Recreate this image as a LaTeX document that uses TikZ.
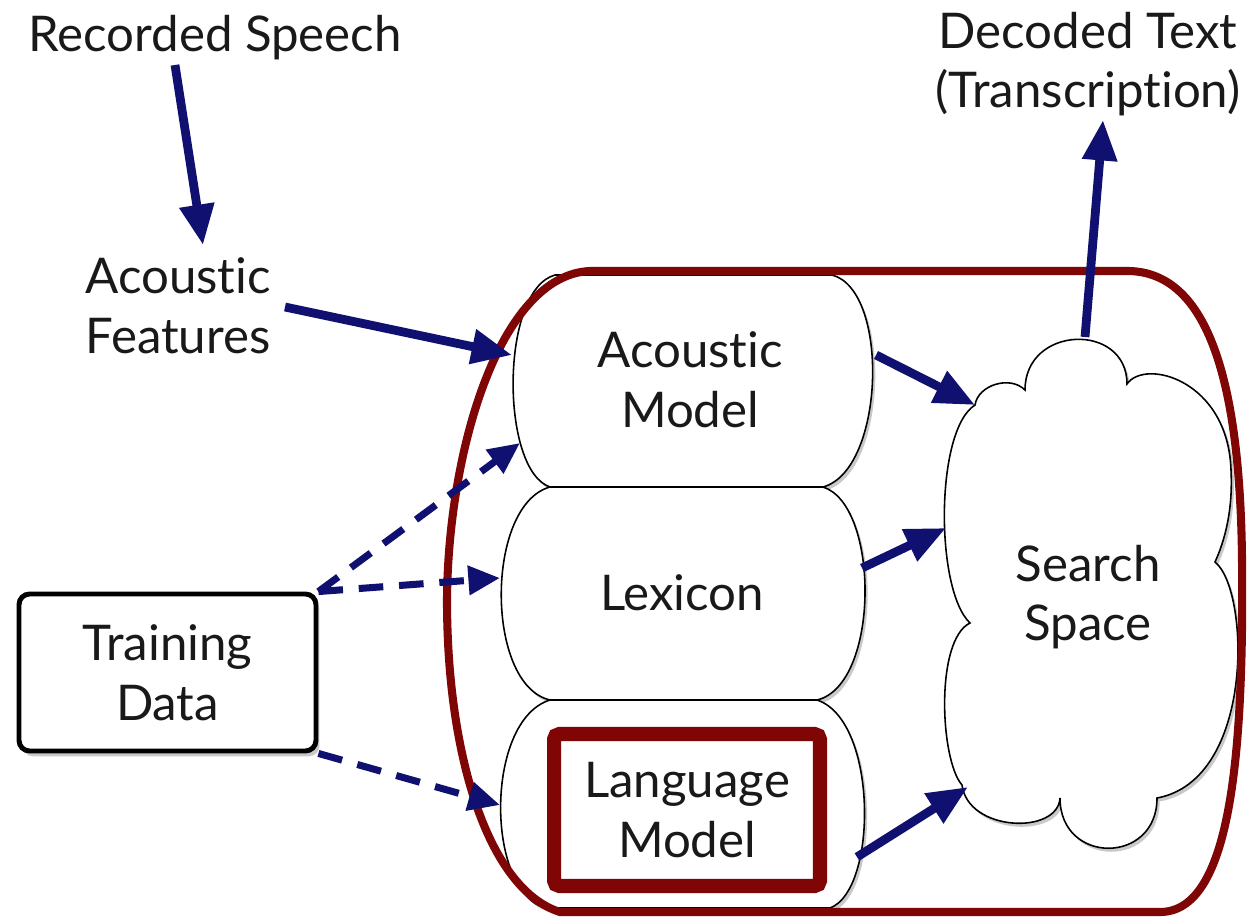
\documentclass[tikz,border=0pt]{standalone}
\usepackage{fontspec}
\setmainfont{Lato}[Ligatures=NoCommon]
\usetikzlibrary{arrows.meta,shadows}
\definecolor{navy}{RGB}{16,16,112}
\definecolor{maroon}{RGB}{128,6,6}
\definecolor{ink}{RGB}{25,25,25}
\begin{document}
\begin{tikzpicture}[x=0.02cm,y=-0.02cm,
  lbl/.style={font=\fontsize{28}{34}\selectfont, align=center, inner sep=0pt, text=ink},
  arr/.style={navy, line width=5pt, -{Triangle[length=23pt,width=19pt]}},
  darr/.style={navy, line width=4pt, dash pattern=on 14pt off 9pt, -{Triangle[length=18pt,width=16pt]}},
  blob/.style={draw=black, line width=0.9pt, fill=white,
    drop shadow={shadow xshift=1.5pt, shadow yshift=-2pt, opacity=0.35, fill=black!60}},
  tbox/.style={lbl, draw=black, line width=2.8pt, rounded corners=6pt, fill=white,
    minimum width=5.94cm, minimum height=3.14cm,
    drop shadow={shadow xshift=2pt, shadow yshift=-3pt, opacity=0.35, fill=black!60}},
  lmbox/.style={lbl, draw=maroon, line width=8pt, rounded corners=3pt,
    minimum width=5.32cm, minimum height=3.04cm},
  outer/.style={draw=maroon, line width=4.6pt}
]
\useasboundingbox (0,0) rectangle (1250,918);
\fill[white] (0,0) rectangle (1250,918);

% stacked model blobs
\path[blob] (555,275) -- (832,275) .. controls (890,290) and (885,470) .. (823,487)
  -- (550,487) .. controls (500,470) and (500,290) .. (555,275) -- cycle;
\path[blob] (550,487) -- (823,487) .. controls (880,505) and (880,685) .. (817,700)
  -- (550,700) .. controls (485,685) and (485,505) .. (550,487) -- cycle;
\path[blob] (550,700) -- (817,700) .. controls (878,720) and (878,890) .. (830,908)
  -- (545,908) .. controls (485,890) and (485,720) .. (550,700) -- cycle;

% search space cloud
\path[blob] (975,405) .. controls (978,385) and (1010,375) .. (1025,390)
  .. controls (1025,325) and (1127,322) .. (1127,384)
  .. controls (1145,358) and (1228,380) .. (1231,470)
  .. controls (1233,510) and (1225,540) .. (1215,562)
  .. controls (1250,590) and (1255,780) .. (1157,798)
  .. controls (1157,865) and (1060,865) .. (1060,798)
  .. controls (1058,835) and (968,832) .. (962,785)
  .. controls (940,760) and (935,640) .. (970,623)
  .. controls (935,590) and (935,430) .. (975,405) -- cycle;

% outer container
\draw[outer] (590,271) -- (1127,271)
  .. controls (1200,271) and (1240,360) .. (1242,560)
  .. controls (1244,760) and (1230,912) .. (1160,912)
  -- (560,912)
  .. controls (490,890) and (447,760) .. (447,600)
  .. controls (448,450) and (500,275) .. (590,271) -- cycle;

% text nodes
\node[lbl] (rec) at (215,38) {Recorded Speech};
\node[lbl] (dec) at (1088,64) {Decoded Text\\(Transcription)};
\node[lbl] (af) at (178,306) {Acoustic\\Features};
\node[tbox] (td) at (167.5,672.5) {Training\\Data};
\node[lbl] (am) at (690,380) {Acoustic\\Model};
\node[lbl] (lex) at (682,593) {Lexicon};
\node[lmbox] (lm) at (687,810) {Language\\Model};
\node[lbl] (ss) at (1088,597) {Search\\Space};

% connector end points on the drawn outlines
\coordinate (rec-s) at (175,65);
\coordinate (af-t) at (203,245);
\coordinate (af-e) at (285,307);
\coordinate (am-w) at (512,355);
\coordinate (am-sw) at (520,443);
\coordinate (lex-w) at (500,578);
\coordinate (lm-w) at (500,805);
\coordinate (am-e) at (876,355);
\coordinate (lex-e) at (862,568);
\coordinate (lm-e) at (857,857);
\coordinate (ss-a) at (975,405);
\coordinate (ss-l) at (946,528);
\coordinate (ss-m) at (968,787);
\coordinate (ss-n) at (1085,337);
\coordinate (dec-s) at (1103,120);

% connectors
\draw[arr] (rec-s) -- (af-t);
\draw[arr] (af-e) -- (am-w);
\draw[arr] (am-e) -- (ss-a);
\draw[arr] (lex-e) -- (ss-l);
\draw[arr] (lm-e) -- (ss-m);
\draw[arr] (ss-n) -- (dec-s);
\draw[darr] (td.north east) -- (am-sw);
\draw[darr] (td.north east) -- (lex-w);
\draw[darr] (td.south east) -- (lm-w);
\end{tikzpicture}
\end{document}
